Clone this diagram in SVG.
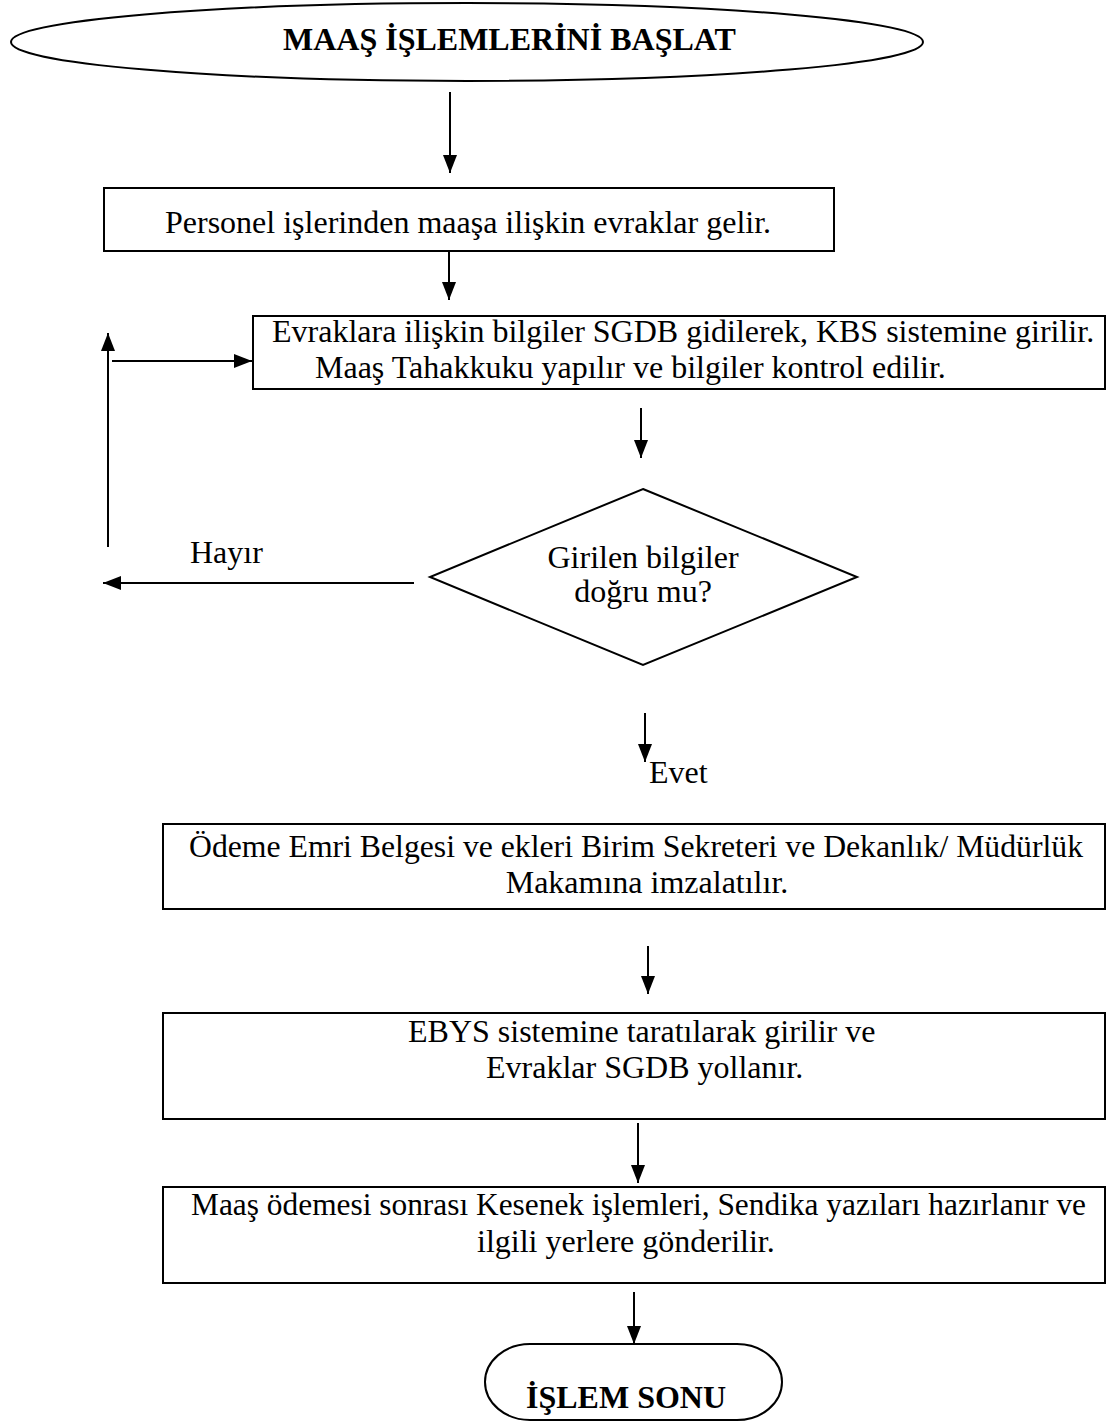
<svg xmlns="http://www.w3.org/2000/svg" width="1107" height="1426" viewBox="0 0 1107 1426">
<style>
.s{fill:#fff;stroke:#000;stroke-width:2}
.t{font-family:"Liberation Serif","Times New Roman",serif;font-size:32px;fill:#000}
.b{font-weight:bold}
.c{stroke:#000;stroke-width:2;fill:none}
</style>
<defs>
<marker id="ar" markerUnits="userSpaceOnUse" markerWidth="18" markerHeight="14" viewBox="0 0 18 14" refX="18" refY="7" orient="auto">
<path d="M0,0 L18,7 L0,14 Z" fill="#000"/>
</marker>
</defs>
<rect width="1107" height="1426" fill="#fff"/>
<g id="start">
<ellipse class="s" cx="467" cy="42" rx="456" ry="39"/>
<text class="t b" x="283" y="50">MAAŞ İŞLEMLERİNİ BAŞLAT</text>
</g>
<g id="n1">
<rect class="s" x="104" y="188" width="730" height="63"/>
<text class="t" x="165" y="233">Personel işlerinden maaşa ilişkin evraklar gelir.</text>
</g>
<g id="n2">
<rect class="s" x="253" y="316" width="852" height="73"/>
<text class="t" x="272" y="342">Evraklara ilişkin bilgiler SGDB gidilerek, KBS sistemine girilir.</text>
<text class="t" x="315" y="378">Maaş Tahakkuku yapılır ve bilgiler kontrol edilir.</text>
</g>
<g id="d1">
<polygon class="s" points="643,489 857,577 643,665 430,577"/>
<text class="t" x="643" y="568" text-anchor="middle">Girilen bilgiler</text>
<text class="t" x="643" y="602" text-anchor="middle">doğru mu?</text>
</g>
<g id="n3">
<rect class="s" x="163" y="824" width="942" height="85"/>
<text class="t" x="189" y="857" textLength="894" lengthAdjust="spacingAndGlyphs">Ödeme Emri Belgesi ve ekleri Birim Sekreteri ve Dekanlık/ Müdürlük</text>
<text class="t" x="647" y="893" text-anchor="middle">Makamına imzalatılır.</text>
</g>
<g id="n4">
<rect class="s" x="163" y="1013" width="942" height="106"/>
<text class="t" x="408" y="1042">EBYS sistemine taratılarak girilir ve</text>
<text class="t" x="486" y="1078">Evraklar SGDB yollanır.</text>
</g>
<g id="n5">
<rect class="s" x="163" y="1187" width="942" height="96"/>
<text class="t" x="191" y="1215" textLength="895" lengthAdjust="spacingAndGlyphs">Maaş ödemesi sonrası Kesenek işlemleri, Sendika yazıları hazırlanır ve</text>
<text class="t" x="477" y="1252">ilgili yerlere gönderilir.</text>
</g>
<g id="end">
<rect class="s" x="485" y="1344" width="297" height="76" rx="45" ry="38"/>
<text class="t b" x="526" y="1408">İŞLEM SONU</text>
</g>
<g id="connectors">
<line class="c" x1="450" y1="92" x2="450" y2="173" marker-end="url(#ar)"/>
<line class="c" x1="449" y1="251" x2="449" y2="300" marker-end="url(#ar)"/>
<line class="c" x1="641" y1="408" x2="641" y2="458" marker-end="url(#ar)"/>
<line class="c" x1="414" y1="583" x2="103" y2="583" marker-end="url(#ar)"/>
<line class="c" x1="108" y1="547" x2="108" y2="333" marker-end="url(#ar)"/>
<line class="c" x1="112" y1="361" x2="252" y2="361" marker-end="url(#ar)"/>
<line class="c" x1="645" y1="713" x2="645" y2="762" marker-end="url(#ar)"/>
<line class="c" x1="648" y1="946" x2="648" y2="994" marker-end="url(#ar)"/>
<line class="c" x1="638" y1="1123" x2="638" y2="1183" marker-end="url(#ar)"/>
<line class="c" x1="634" y1="1292" x2="634" y2="1344" marker-end="url(#ar)"/>
</g>
<text class="t" x="190" y="563">Hayır</text>
<text class="t" x="649" y="783">Evet</text>
</svg>
